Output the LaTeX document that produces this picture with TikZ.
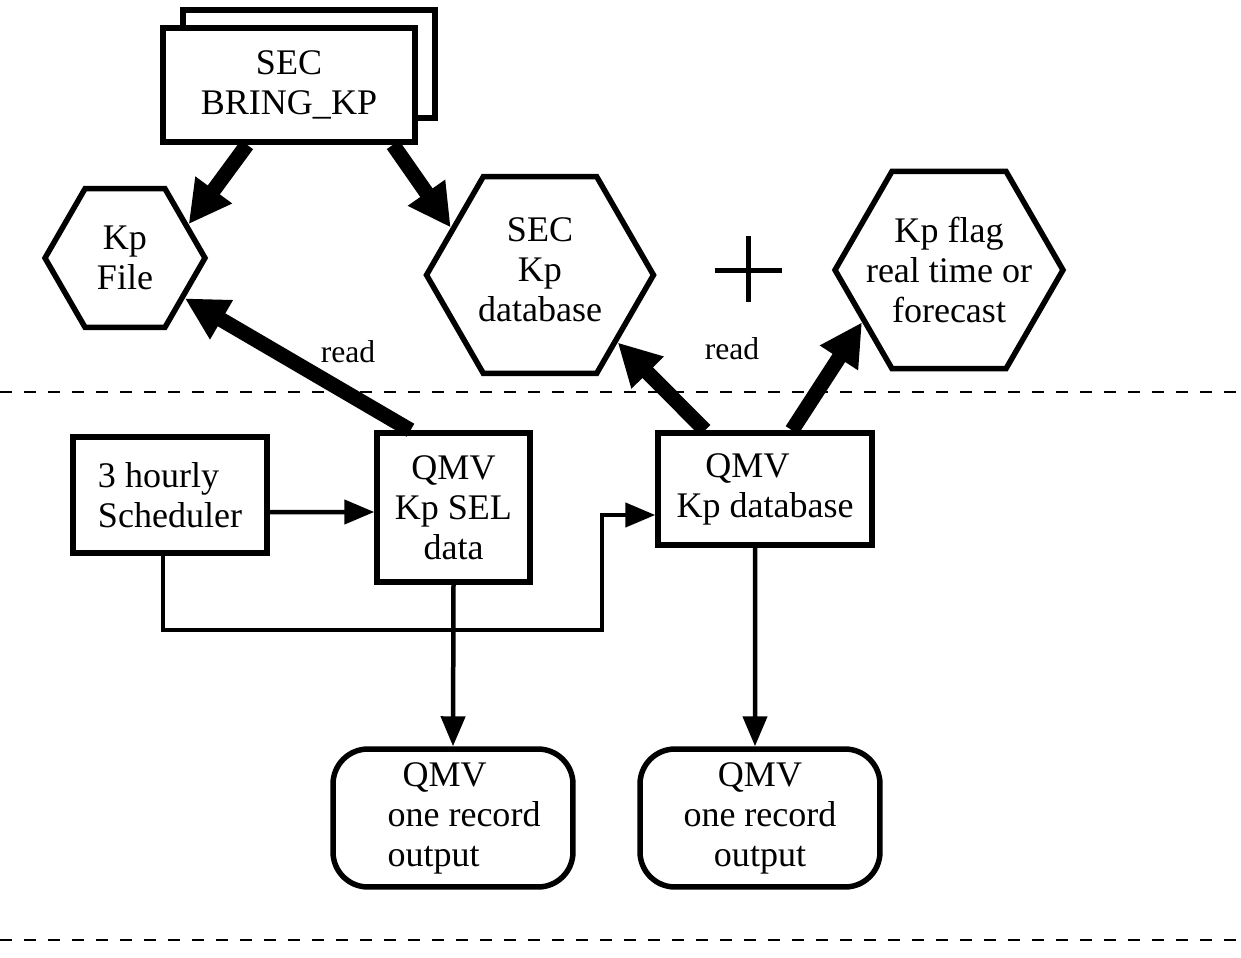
\documentclass[tikz,border=0pt]{standalone}
\usepackage{fontspec}
\setmainfont{Liberation Serif}
\usetikzlibrary{arrows.meta,shapes.geometric}
\begin{document}
\begin{tikzpicture}[x=0.02cm,y=-0.02cm,
  every node/.style={font=\fontsize{20.5}{22.8}\selectfont},
  box/.style={draw,line width=0.11cm,inner sep=0pt,align=center,fill=white},
  hexa/.style={draw,line width=0.11cm,regular polygon,regular polygon sides=6,inner sep=0pt},
  thinarrow/.style={line width=0.09cm,-{Triangle[length=0.6cm,width=0.48cm]}},
  fatarrow/.style={line width=0.3cm,-{Triangle[length=0.85cm,width=0.85cm]}},
  sepline/.style={line width=0.04cm,dash pattern=on 0.24cm off 0.24cm},
  lbl/.style={font=\fontsize{18}{20}\selectfont}]
\useasboundingbox (0,0) rectangle (1241,957);

% separators
\coordinate (s1a) at (0,392); \coordinate (s1b) at (1241,392);
\coordinate (s2a) at (0,940); \coordinate (s2b) at (1241,940);
\draw[sepline] (s1a) -- (s1b);
\draw[sepline] (s2a) -- (s2b);

% top boxes
\node[box,minimum width=5.04cm,minimum height=2.16cm] (bringback) at (309,64) {};
\node[box,minimum width=5.04cm,minimum height=2.28cm] (bring) at (289,85) {SEC\\BRING\_KP};

% hexagons
\node[hexa,minimum size=3.2cm,label={[align=center]center:Kp\\File}] (kpfile) at (125,258) {};
\node[hexa,minimum size=4.54cm,label={[align=center,yshift=0.1cm]center:SEC\\Kp\\database}] (seckp) at (540,275) {};
\node[hexa,minimum size=4.56cm,label={[align=center]center:Kp flag\\real time or\\forecast}] (kpflag) at (949,270) {};

% plus sign
\draw[line width=0.1cm] (715,270) -- (782,270) (748,236) -- (748,302);

% labels
\node[lbl] (read1) at (348,352) {read};
\node[lbl] (read2) at (732,349) {read};

% lower boxes
\node[box,minimum width=3.88cm,minimum height=2.32cm,align=left] (sched) at (170,495) {3 hourly\\Scheduler};
\node[box,minimum width=3.06cm,minimum height=2.98cm] (sel) at (453.5,507.5) {QMV\\Kp SEL\\data};
\node[box,minimum width=4.28cm,minimum height=2.24cm] (db) at (765,489) {QMV\hspace*{0.7cm}\\Kp database};
\node[box,rounded corners=0.7cm,minimum width=4.8cm,minimum height=2.76cm,
  label={[align=left,xshift=0.22cm]center:\hspace*{0.3cm}QMV\\one record\\output}] (out1) at (453,818) {};
\node[box,rounded corners=0.7cm,minimum width=4.8cm,minimum height=2.76cm] (out2) at (760,818) {QMV\\one record\\output};

% thick arrows
\draw[fatarrow] ([xshift=-0.84cm]bring.south) -- (kpfile.28);
\draw[fatarrow] ([xshift=2.08cm]bring.south) -- (seckp.152.6);
\draw[fatarrow] ([xshift=-0.86cm]sel.north) -- (kpfile.-34);
\draw[fatarrow] ([xshift=-1.2cm]db.north) -- (seckp.-41);
\draw[fatarrow] ([xshift=0.54cm]db.north) -- (kpflag.-149.5);

% thin arrows
\coordinate (bend) at (602,630);
\draw[thinarrow] ([yshift=-0.34cm]sched.east) -- ([yshift=-0.09cm]sel.west);
\draw[thinarrow] ([xshift=-0.14cm]sched.south) |- (bend) |- ([yshift=-0.52cm]db.west);
\draw[thinarrow] (sel.south) -- (out1.north);
\draw[thinarrow] ([xshift=-0.2cm]db.south) -- ([xshift=-0.1cm]out2.north);
\end{tikzpicture}
\end{document}
